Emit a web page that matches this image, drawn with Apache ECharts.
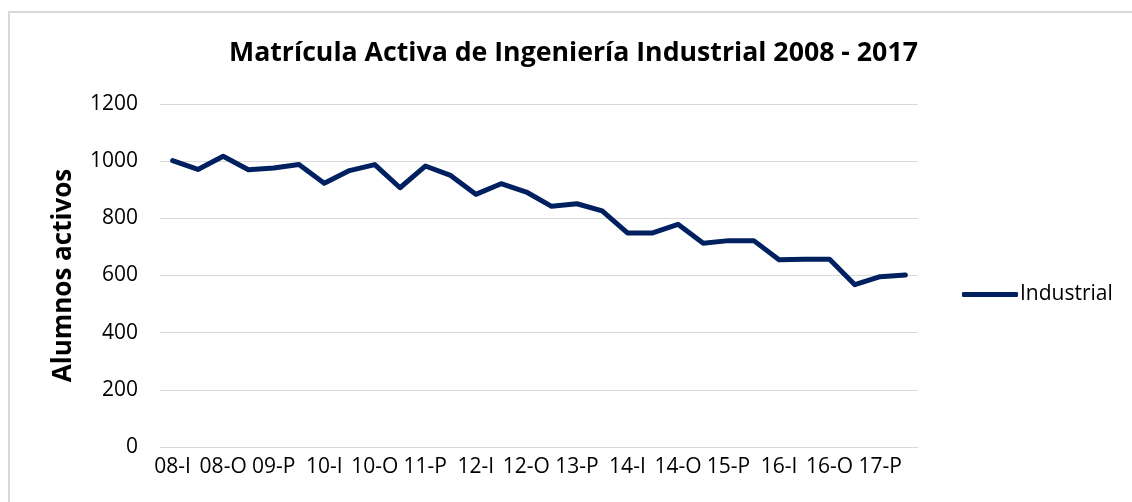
<!DOCTYPE html>
<html>
<head>
<meta charset="utf-8">
<script src="https://cdn.jsdelivr.net/npm/echarts@6/dist/echarts.min.js"></script>
<style>
  html, body { margin: 0; padding: 0; background: #fff; }
  #marco { position: absolute; left: 8px; top: 11px; width: 1140px; height: 510px; border: 2px solid #d9d9d9; }
  #grafica { position: absolute; left: 0; top: 0; width: 1132px; height: 502px; }
</style>
</head>
<body>
<div id="marco"></div>
<div id="grafica"></div>
<script>
// periodos: I = invierno, P = primavera, O = otoño
var periodos = ['08-I','08-P','08-O','09-I','09-P','09-O','10-I','10-P','10-O',
                '11-I','11-P','11-O','12-I','12-P','12-O','13-I','13-P','13-O',
                '14-I','14-P','14-O','15-I','15-P','15-O','16-I','16-P','16-O',
                '17-I','17-P','17-O'];

// alumnos activos de Ingeniería Industrial
var industrial = [1002, 971, 1017, 970, 976, 988, 923, 967, 988, 907,
                  983, 950, 884, 921, 892, 842, 851, 826, 749, 749,
                  779, 713, 722, 722, 655, 657, 657, 568, 596, 602];

var ticksY = [0, 200, 400, 600, 800, 1000, 1200];

var fuente = '"Open Sans", "Noto Sans", sans-serif';

var dom = document.getElementById("grafica");
var myChart = echarts.init(dom);

var option = {
    animation: false,
    textStyle: { fontFamily: fuente },
    title: {
        text: 'Matrícula Activa de Ingeniería Industrial 2008 - 2017',
        left: 224,
        top: 35,
        textStyle: {
            fontFamily: fuente,
            fontSize: 26.7,
            fontWeight: 'bold',
            color: '#000'
        }
    },
    legend: {
        data: ['Industrial'],
        orient: 'vertical',
        left: 957,
        top: 279,
        itemWidth: 56,
        itemHeight: 5,
        itemGap: 0,
        icon: 'roundRect',
        textStyle: { fontFamily: fuente, fontSize: 21, color: '#000', padding: [0, 0, 0, -3] }
    },
    grid: {
        left: 160,
        right: 214,
        top: 104,
        bottom: 55
    },
    xAxis: {
        type: 'category',
        data: periodos,
        boundaryGap: true,
        axisLine: { lineStyle: { color: '#d9d9d9', width: 1 } },
        axisTick: { show: false },
        axisLabel: {
            interval: 1,
            fontFamily: fuente,
            fontSize: 21,
            color: '#000',
            margin: 10
        }
    },
    yAxis: {
        type: 'value',
        min: ticksY[0],
        max: ticksY[ticksY.length - 1],
        interval: 200,
        name: 'Alumnos activos',
        nameLocation: 'middle',
        nameGap: 83,
        nameTextStyle: {
            fontFamily: fuente,
            fontSize: 26,
            fontWeight: 'bold',
            color: '#000'
        },
        axisLine: { show: false },
        axisTick: { show: false },
        axisLabel: {
            fontFamily: fuente,
            fontSize: 21,
            color: '#000',
            margin: 22,
            formatter: function (v) { return String(v); }
        },
        splitLine: { lineStyle: { color: '#d9d9d9', width: 1 } }
    },
    series: [{
        name: 'Industrial',
        type: 'line',
        data: industrial,
        symbol: 'none',
        lineStyle: { color: '#002060', width: 5, join: 'round', cap: 'round' },
        itemStyle: { color: '#002060' }
    }]
};

myChart.setOption(option, true);
</script>
</body>
</html>
